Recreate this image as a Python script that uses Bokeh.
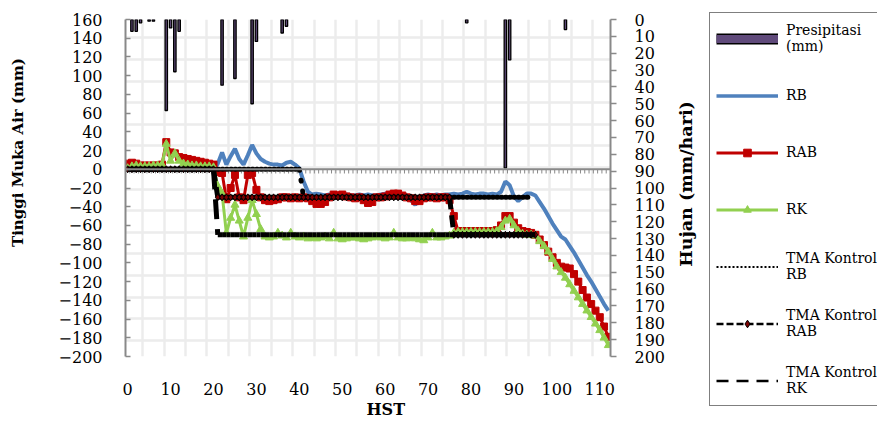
import math
import numpy as np
from bokeh.plotting import figure
from bokeh.layouts import row
from bokeh.models import (Range1d, LinearAxis, FixedTicker, Legend, LegendItem,
                          ColumnDataSource, Span, Title, Label)
from bokeh.embed import file_html
from bokeh.resources import INLINE

# ---------------- data ----------------
HST = list(range(0, 113))
X_TICKS = [0, 10, 20, 30, 40, 50, 60, 70, 80, 90, 100, 110]
Y_TICKS = [-200, -180, -160, -140, -120, -100, -80, -60, -40, -20, 0, 20, 40, 60, 80, 100, 120, 140, 160]
Y2_TICKS = [0, 10, 20, 30, 40, 50, 60, 70, 80, 90, 100, 110, 120, 130, 140, 150, 160, 170, 180, 190, 200]

PRESIPITASI = [
    0, 7, 7, 2, 0, 1, 1, 0, 0, 54, 5, 31, 7, 0, 0, 0, 0, 0, 0, 0,
    0, 0, 39, 0, 0, 35, 0, 0, 0, 50, 13, 0, 0, 0, 0, 0, 8, 4, 0, 0,
    0, 0, 0, 0, 0, 0, 0, 0, 0, 0, 0, 0, 0, 0, 0, 0, 0, 0, 0, 0,
    0, 0, 0, 0, 0, 0, 0, 0, 0, 0, 0, 0, 0, 0, 0, 0, 0, 0, 0, 2,
    0, 0, 0, 0, 0, 0, 0, 0, 88, 24, 0, 0, 0, 0, 0, 0, 0, 0, 0, 0,
    0, 0, 6, 0, 0, 0, 0, 0, 0, 0, 0, 0, 0]

RB = [
    0, 0, 0, 0, 0, 0, 0, 0, 0, 0, 0, 0, 0, 0, 0, 0, 0, 0, 0, 0,
    0, 6, 18, 5, 14, 22, 11, 5, 15, 26, 17, 11, 8, 6, 5, 5, 4, 7, 8, 5,
    1, -13, -24, -27, -26, -27, -28, -27, -27, -28, -28, -27, -28, -28, -27, -28, -27, -28, -28, -27,
    -26, -27, -28, -28, -27, -28, -33, -38, -32, -28, -27, -28, -27, -28, -27, -27, -26, -27, -26, -24,
    -26, -27, -26, -26, -27, -26, -27, -24, -13, -17, -29, -34, -30, -26, -26, -28, -35, -42, -50, -58,
    -65, -72, -75, -82, -89, -97, -105, -113, -120, -128, -136, -144, -151]

RAB = [
    6, 7, 6, 4, 4, 4, 4, 4, 5, 29, 18, 17, 13, 12, 11, 10, 9, 8, 7, 6,
    5, -3, -4, -32, -20, -6, -30, -33, -6, -4, -22, -30, -33, -34, -33, -32, -30, -30, -31, -30,
    -31, -30, -31, -34, -37, -37, -35, -30, -27, -28, -27, -29, -30, -31, -30, -33, -36, -35, -30, -30,
    -29, -27, -26, -26, -28, -30, -31, -34, -34, -31, -30, -30, -31, -30, -30, -33, -50, -66, -66, -66,
    -66, -66, -66, -66, -66, -66, -65, -60, -50, -50, -57, -63, -66, -67, -68, -70, -75, -81, -88, -94,
    -100, -104, -105, -106, -112, -120, -129, -137, -144, -151, -158, -168, -179]

RK = [
    1, 3, 4, 3, 3, 3, 4, 4, 5, 27, 9, 17, 9, 6, 5, 4, 4, 3, 3, 3,
    2, -18, -26, -68, -52, -38, -55, -72, -52, -33, -48, -64, -72, -73, -72, -68, -71, -73, -68, -72,
    -73, -72, -74, -73, -74, -73, -72, -74, -68, -74, -75, -74, -73, -73, -74, -75, -74, -73, -72, -73,
    -74, -73, -68, -73, -74, -74, -73, -74, -75, -76, -73, -68, -73, -73, -72, -71, -68, -67, -67, -67,
    -67, -67, -67, -67, -67, -67, -66, -62, -55, -53, -60, -66, -69, -70, -70, -71, -77, -82, -88, -96,
    -104, -110, -116, -123, -130, -137, -144, -151, -158, -165, -172, -180, -188]

N = None
TMA_RB = [
    0, 0, 0, 0, 0, 0, 0, 0, 0, 0, 0, 0, 0, 0, 0, 0, 0, 0, 0, 0,
    0, 0, 0, 0, 0, 0, 0, 0, 0, 0, 0, 0, 0, 0, 0, 0, 0, 0, 0, 0,
    0, -30, -30, -30, -30, -30, -30, -30, -30, -30, -30, -30, -30, -30, -30, -30, -30, -30, -30, -30,
    -30, -30, -30, -30, -30, -30, -30, -30, -30, -30, -30, -30, -30, -30, -30, -30, -30, -30, -30, -30,
    -30, -30, -30, -30, -30, -30, -30, -30, -30, -30, -30, -30, -30, -30, -30, N, N, N, N, N,
    N, N, N, N, N, N, N, N, N, N, N, N, N]

TMA_RAB = [
    0, 0, 0, 0, 0, 0, 0, 0, 0, 0, 0, 0, 0, 0, 0, 0, 0, 0, 0, 0,
    0, -30, -30, -30, -30, -30, -30, -30, -30, -30, -30, -30, -30, -30, -30, -30, -30, -30, -30, -30,
    -30, -30, -30, -30, -30, -30, -30, -30, -30, -30, -30, -30, -30, -30, -30, -30, -30, -30, -30, -30,
    -30, -30, -30, -30, -30, -30, -30, -30, -30, -30, -30, -30, -30, -30, -30, -30, -70, -70, -70, -70,
    -70, -70, -70, -70, -70, -70, -70, -70, -70, -70, -70, -70, -70, -70, -70, -70, N, N, N, N,
    N, N, N, N, N, N, N, N, N, N, N, N, N]

TMA_RK = [
    0, 0, 0, 0, 0, 0, 0, 0, 0, 0, 0, 0, 0, 0, 0, 0, 0, 0, 0, 0,
    0, -70, -70, -70, -70, -70, -70, -70, -70, -70, -70, -70, -70, -70, -70, -70, -70, -70, -70, -70,
    -70, -70, -70, -70, -70, -70, -70, -70, -70, -70, -70, -70, -70, -70, -70, -70, -70, -70, -70, -70,
    -70, -70, -70, -70, -70, -70, -70, -70, -70, -70, -70, -70, -70, -70, -70, -70, -70, -70, -70, -70,
    -70, -70, -70, -70, -70, -70, -70, -70, -70, -70, -70, -70, -70, -70, -70, -70, N, N, N, N,
    N, N, N, N, N, N, N, N, N, N, N, N, N]

# ---------------- styling ----------------
FONT = "DejaVu Serif"
AXIS_GRAY = "#898989"
GRID = "#ececec"
C_RB, C_RAB, C_RK = "#4f81bd", "#c00000", "#92d050"
C_BAR = "#604a7b"
C_DIAMOND = "#7a0000"

W_MAIN, W_LEG, H = 668, 209, 421
FL, FR, FT, FB = 125, 613, 19, 356      # frame edges in canvas px

p = figure(width=W_MAIN, height=H, output_backend="svg", toolbar_location=None,
           x_range=Range1d(-0.5, len(HST) - 0.5), y_range=Range1d(-200, 160),
           min_border_left=FL, min_border_right=W_MAIN - FR, min_border_top=FT,
           min_border_bottom=H - FB)
p.extra_y_ranges = {"hujan": Range1d(start=200, end=0)}
p.outline_line_color = None
p.background_fill_color = "white"
p.border_fill_color = "white"
try:
    p.frame_align = False
except Exception:
    pass

# background square grid (decorative, pixel spaced)
px_per_x = (FR - FL) / len(HST)
px_per_y = (FB - FT) / 360.0
gx = [3.5 + k * 21.55 / px_per_x for k in range(22)]
gy = [140.3 - k * 21.6 / px_per_y for k in range(15)]
p.xgrid.ticker = FixedTicker(ticks=gx)
p.ygrid.ticker = FixedTicker(ticks=gy)
for g in (p.xgrid, p.ygrid):
    g.grid_line_color = GRID
    g.grid_line_width = 2.5

# bottom axis (labels only)
xa = p.xaxis[0]
xa.ticker = FixedTicker(ticks=X_TICKS)
xa.axis_line_color = None
xa.major_tick_line_color = None
xa.major_tick_in = 0
xa.major_tick_out = 0
xa.minor_tick_line_color = None
xa.minor_tick_in = 0
xa.minor_tick_out = 0
xa.major_label_standoff = 26
xa.major_label_text_font = FONT
xa.major_label_text_font_size = "16px"
xa.major_label_text_color = "black"

# left axis
ya = p.yaxis[0]
ya.ticker = FixedTicker(ticks=Y_TICKS)
ya.axis_line_color = AXIS_GRAY
ya.axis_line_width = 2
ya.major_tick_line_color = AXIS_GRAY
ya.major_tick_line_width = 1.5
ya.major_tick_in = 5
ya.major_tick_out = 0
ya.minor_tick_line_color = None
ya.minor_tick_in = 0
ya.minor_tick_out = 0
ya.major_label_standoff = 23
ya.major_label_text_font = FONT
ya.major_label_text_font_size = "16px"
ya.major_label_text_color = "black"
ya.axis_label = " "
ya.axis_label_standoff = 9
ya.axis_label_text_font_size = "16px"

# right axis (ticks and numbers; its title sits on the neighbouring canvas)
ra = LinearAxis(y_range_name="hujan", ticker=FixedTicker(ticks=Y2_TICKS))
ra.axis_line_color = AXIS_GRAY
ra.axis_line_width = 2
ra.major_tick_line_color = AXIS_GRAY
ra.major_tick_line_width = 1.5
ra.major_tick_in = 0
ra.major_tick_out = 6
ra.minor_tick_line_color = None
ra.minor_tick_in = 0
ra.minor_tick_out = 0
ra.major_label_standoff = 18
ra.major_label_text_font = FONT
ra.major_label_text_font_size = "16px"
ra.major_label_text_color = "black"
p.add_layout(ra, "right")

# axis titles placed as side titles
p.add_layout(Title(text="Tinggi Muka Air (mm)", align="left", offset=109.5,
                   vertical_align="bottom", standoff=0, text_font=FONT,
                   text_font_size="15px", text_font_style="bold", text_color="black"), "left")
p.add_layout(Title(text="HST", align="left", offset=241, vertical_align="bottom",
                   standoff=0, text_font=FONT, text_font_size="16px",
                   text_font_style="bold", text_color="black"), "below")

# horizontal category axis crossing at 0
p.add_layout(Span(location=0, dimension="width", line_color=AXIS_GRAY, line_width=2))
bx = [h - 0.5 for h in HST] + [HST[-1] + 0.5]
p.segment(x0=bx, y0=[0] * len(bx), x1=bx, y1=[-4.5] * len(bx),
          line_color=AXIS_GRAY, line_width=1)

# ---------------- series ----------------
def clean(vals):
    return [np.nan if v is None else v for v in vals]

src = ColumnDataSource(dict(x=HST, p=PRESIPITASI, rb=RB, rab=RAB, rk=RK,
                            trb=clean(TMA_RB), trab=clean(TMA_RAB), trk=clean(TMA_RK)))

p.line("x", "rb", source=src, line_color=C_RB, line_width=4)
p.line("x", "rab", source=src, line_color=C_RAB, line_width=3)
p.scatter("x", "rab", source=src, marker="square", size=7, fill_color=C_RAB, line_color=C_RAB)
p.line("x", "rk", source=src, line_color=C_RK, line_width=3)
p.scatter("x", "rk", source=src, marker="triangle", size=8, fill_color=C_RK, line_color=C_RK)


def segs(vals):
    x0, y0, x1, y1 = [], [], [], []
    for i in range(len(vals) - 1):
        if vals[i] is None or vals[i + 1] is None:
            continue
        x0.append(HST[i]); y0.append(vals[i]); x1.append(HST[i + 1]); y1.append(vals[i + 1])
    return ColumnDataSource(dict(x0=x0, y0=y0, x1=x1, y1=y1))


p.segment("x0", "y0", "x1", "y1", source=segs(TMA_RB), line_color="black",
          line_width=5, line_dash="1 10", line_cap="round")
p.segment("x0", "y0", "x1", "y1", source=segs(TMA_RAB), line_color="black",
          line_width=5, line_dash="12 6")
p.scatter("x", "trab", source=src, marker="diamond", size=7,
          fill_color=C_DIAMOND, line_color="black", line_width=1)
p.segment("x0", "y0", "x1", "y1", source=segs(TMA_RK), line_color="black",
          line_width=5, line_dash="20 10")

# precipitation bars on the inverted secondary axis
bars = ColumnDataSource(dict(x=[h for h, v in zip(HST, PRESIPITASI) if v > 0],
                             v=[v for v in PRESIPITASI if v > 0]))
p.vbar(x="x", top=0, bottom="v", width=0.55, source=bars, y_range_name="hujan",
       fill_color=C_BAR, line_color="black", line_width=1.3)

# ---------------- right-hand canvas: secondary axis title + legend ----------------
lf = figure(width=W_LEG, height=H, output_backend="svg", toolbar_location=None,
            x_range=Range1d(1000, 1001), y_range=Range1d(1000, 1001),
            x_axis_location=None, y_axis_location=None,
            min_border_left=0, min_border_right=0, min_border_top=0, min_border_bottom=0)
lf.outline_line_color = None
lf.background_fill_color = "white"
lf.border_fill_color = "white"
try:
    lf.frame_align = False
except Exception:
    pass
for g in lf.xgrid + lf.ygrid:
    g.visible = False

lf.add_layout(Label(x=685 - W_MAIN, y=H - 183.5, x_units="screen", y_units="screen",
                    angle=math.pi / 2, text="Hujan (mm/hari)", text_font=FONT,
                    text_font_size="17.5px", text_font_style="bold", text_color="black",
                    text_align="center", text_baseline="middle"))

# legend glyphs use the same series (kept outside this canvas' view)
lg_bar_o = lf.line("x", "p", source=src, line_color="black", line_width=11)
lg_bar_i = lf.line("x", "p", source=src, line_color=C_BAR, line_width=8)
lg_rb = lf.line("x", "rb", source=src, line_color=C_RB, line_width=3.5)
lg_rab_l = lf.line("x", "rab", source=src, line_color=C_RAB, line_width=3)
lg_rab_m = lf.scatter("x", "rab", source=src, marker="square", size=9,
                      fill_color=C_RAB, line_color=C_RAB)
lg_rk_l = lf.line("x", "rk", source=src, line_color=C_RK, line_width=3)
lg_rk_m = lf.scatter("x", "rk", source=src, marker="triangle", size=9,
                     fill_color=C_RK, line_color=C_RK)
lg_trb = lf.line("x", "trb", source=src, line_color="black", line_width=2, line_dash="2 2")
lg_trab = lf.line("x", "trab", source=src, line_color="black", line_width=2.5, line_dash="7 3")
lg_trab_m = lf.scatter("x", "trab", source=src, marker="diamond", size=8,
                       fill_color=C_DIAMOND, line_color="black")
lg_trk = lf.line("x", "trk", source=src, line_color="black", line_width=2.5, line_dash="12 8")

legend = Legend(items=[
    LegendItem(label="Presipitasi\n(mm)", renderers=[lg_bar_o, lg_bar_i]),
    LegendItem(label="RB", renderers=[lg_rb]),
    LegendItem(label="RAB", renderers=[lg_rab_l, lg_rab_m]),
    LegendItem(label="RK", renderers=[lg_rk_l, lg_rk_m]),
    LegendItem(label="TMA Kontrol\nRB", renderers=[lg_trb]),
    LegendItem(label="TMA Kontrol\nRAB", renderers=[lg_trab, lg_trab_m]),
    LegendItem(label="TMA Kontrol\nRK", renderers=[lg_trk]),
], location=(709 - W_MAIN, 15))
legend.label_text_font = FONT
legend.label_text_font_size = "14px"
legend.label_text_line_height = 1.5
legend.label_text_color = "black"
legend.glyph_width = 62
legend.glyph_height = 19
legend.label_height = 38
legend.label_standoff = 8
legend.padding = 6
legend.spacing = 19
legend.margin = 0
legend.border_line_color = "black"
legend.border_line_width = 1.5
legend.background_fill_alpha = 1
lf.add_layout(legend, "center")

open("out.html", "w").write(file_html(row(p, lf), INLINE))
